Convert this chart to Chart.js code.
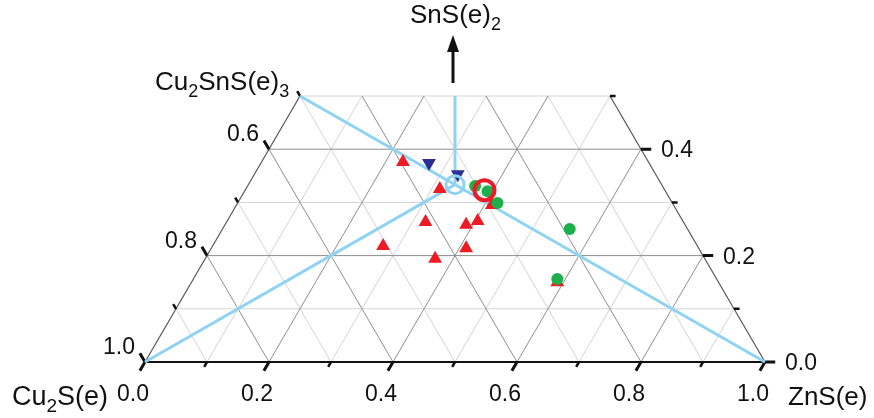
<!DOCTYPE html>
<html><head><meta charset="utf-8">
<script src="https://cdn.jsdelivr.net/npm/chart.js@4/dist/chart.umd.min.js"></script>
<style>html,body{margin:0;padding:0;background:#fff}canvas{display:block}</style>
</head><body>
<canvas id="c" width="874" height="418"></canvas>
<script>
// ---- axis/tick data ----
const bottomTickValues = [0, 0.2, 0.4, 0.6, 0.8, 1.0];      // ZnS(e) fraction
const bottomTickLabels = ['0.0', '0.2', '0.4', '0.6', '0.8', '1.0'];
const leftTickValues = [0.6, 0.8, 1.0];                      // Cu2S(e) fraction
const leftTickLabels = ['0.6', '0.8', '1.0'];
const rightTickValues = [0.0, 0.2, 0.4];                     // SnS(e)2 fraction
const rightTickLabels = ['0.0', '0.2', '0.4'];
const snsMax = 0.5;

// ---- series (ZnS fraction, SnS2 fraction; Cu2S = 1 - ZnS - SnS2) ----
const redTriZnS = [0.228, 0.313, 0.412, 0.321, 0.389, 0.404, 0.275, 0.411, 0.371, 0.590];
const redTriSnS = [0.376, 0.325, 0.295, 0.263, 0.258, 0.265, 0.218, 0.214, 0.194, 0.150];
const blueTriZnS = [0.271, 0.328];
const blueTriSnS = [0.374, 0.353];
const greenZnS = [0.367, 0.392, 0.419, 0.560, 0.587];
const greenSnS = [0.331, 0.321, 0.299, 0.250, 0.156];
const redRingZnS = [0.386];
const redRingSnS = [0.323];
const stoichZnS = [1/3];
const stoichSnS = [1/3];
// tie lines: [ZnS, SnS] start and end
const tieStartZnS = [0, 0, 1/3];
const tieStartSnS = [0.5, 0, 1/3];
const tieEndZnS = [1, 1/3, 0.25];
const tieEndSnS = [0, 1/3, 0.5];

const H = Math.sqrt(3) / 2;
function tern(z, s) { return { x: z + s / 2, y: s * H }; }
function gap() { return { x: null, y: null }; }

function gridPts(parity) {
  const pts = [];
  for (let k = 1; k <= 9; k++) {
    if (k % 2 !== parity) continue;
    const v = k / 10;
    if (v <= snsMax + 1e-9) pts.push(tern(0, v), tern(1 - v, v), gap());
    const sEnd = Math.min(snsMax, 1 - v);
    pts.push(tern(v, 0), tern(v, sEnd), gap());
    pts.push(tern(1 - v, 0), tern(1 - v - sEnd, sEnd), gap());
  }
  return pts;
}
function tickPts(major) {
  const pts = [];
  const L = major ? 0.0165 : 0.009;
  for (let k = 0; k <= 10; k++) {
    if ((k % 2 === 0) !== major) continue;
    const p = tern(k / 10, 0);
    pts.push(p, { x: p.x - 0.5 * L, y: p.y - H * L }, gap());
  }
  for (let k = 0; k <= 5; k++) {
    if ((k % 2 === 0) !== major) continue;
    const s = k / 10;
    const p = tern(0, s);
    pts.push(p, { x: p.x - 0.5 * L, y: p.y + H * L }, gap());
    const q = tern(1 - s, s);
    pts.push(q, { x: q.x + L, y: q.y }, gap());
  }
  return pts;
}
function series(zs, ss) { return zs.map((z, i) => tern(z, ss[i])); }
function tiePts() {
  const pts = [];
  tieStartZnS.forEach((z, i) => pts.push(tern(z, tieStartSnS[i]), tern(tieEndZnS[i], tieEndSnS[i]), gap()));
  return pts;
}

const lineDs = (data, color, width, order) => ({
  type: 'scatter', data, showLine: true, borderColor: color, borderWidth: width,
  pointRadius: 0, fill: false, spanGaps: false, clip: false, order, borderCapStyle: 'butt'
});

const FONT = '"Liberation Sans", Arial, Helvetica, sans-serif';
function drawRich(ctx, parts, x, y, size, subSize) {
  let cx = x;
  for (const [t, sub] of parts) {
    ctx.font = (sub ? subSize : size) + 'px ' + FONT;
    ctx.fillText(t, cx, sub ? y + 7 : y);
    cx += ctx.measureText(t).width;
  }
}

const labelPlugin = {
  id: 'ternLabels',
  afterDatasetsDraw(chart) {
    const { ctx } = chart;
    const xs = chart.scales.x, ys = chart.scales.y;
    const P = (z, s) => { const t = tern(z, s); return [xs.getPixelForValue(t.x), ys.getPixelForValue(t.y)]; };
    ctx.save();
    ctx.fillStyle = '#111';
    ctx.textBaseline = 'alphabetic';
    ctx.font = '23px ' + FONT;
    ctx.textAlign = 'center';
    bottomTickValues.forEach((v, i) => { const [px, py] = P(v, 0); ctx.fillText(bottomTickLabels[i], px - 12, py + 39); });
    ctx.textAlign = 'right';
    leftTickValues.forEach((c, i) => { const [px, py] = P(0, 1 - c); ctx.fillText(leftTickLabels[i], px - 10, py - 8); });
    ctx.textAlign = 'left';
    rightTickValues.forEach((s, i) => { const [px, py] = P(1 - s, s); ctx.fillText(rightTickLabels[i], px + 20, py + 8); });

    const [c0x, c0y] = P(0, 0);
    drawRich(ctx, [['Cu', 0], ['2', 1], ['S(e)', 0]], c0x - 133, c0y + 43, 27, 19);
    const [z0x, z0y] = P(1, 0);
    drawRich(ctx, [['ZnS(e)', 0]], z0x + 23, z0y + 43, 26, 18);
    const [t0x, t0y] = P(0, snsMax);
    drawRich(ctx, [['Cu', 0], ['2', 1], ['SnS(e)', 0], ['3', 1]], t0x - 145, t0y - 6, 26, 18);
    const [ax, ay] = P(0.25, snsMax);
    drawRich(ctx, [['SnS(e)', 0], ['2', 1]], ax - 45, ay - 73, 26, 18);

    // arrow
    const axp = ax - 2;
    ctx.strokeStyle = '#111'; ctx.lineWidth = 3;
    ctx.beginPath(); ctx.moveTo(axp, ay - 13); ctx.lineTo(axp, ay - 46); ctx.stroke();
    ctx.beginPath(); ctx.moveTo(axp, ay - 61); ctx.lineTo(axp - 6, ay - 44); ctx.lineTo(axp + 6, ay - 44); ctx.closePath(); ctx.fill();
    ctx.restore();
  }
};

new Chart(document.getElementById('c'), {
  type: 'scatter',
  data: {
    datasets: [
      lineDs(gridPts(1), '#d4d4d4', 1, 20),
      lineDs(gridPts(0), '#8e8e8e', 1, 19),
      lineDs([tern(0, 0), tern(0, snsMax)], '#555', 1.2, 18),
      lineDs([tern(1, 0), tern(1 - snsMax, snsMax)], '#555', 1.2, 18),
      lineDs([tern(0, 0), tern(1, 0)], '#111', 2, 17),
      lineDs(tickPts(true), '#111', 3, 16),
      lineDs(tickPts(false), '#111', 2.5, 16),
      lineDs(tiePts(), '#8fd3f2', 3, 15),
      { data: series(redTriZnS, redTriSnS), pointStyle: 'triangle', pointRadius: 8, backgroundColor: '#ED1C24', borderWidth: 0, clip: false, order: 10 },
      { data: series(blueTriZnS, blueTriSnS), pointStyle: 'triangle', rotation: 180, pointRadius: 8, backgroundColor: '#2B3192', borderWidth: 0, clip: false, order: 9 },
      { data: series(greenZnS, greenSnS), pointStyle: 'circle', pointRadius: 6, backgroundColor: '#1DAF4B', borderWidth: 0, clip: false, order: 8 },
      { data: series(redRingZnS, redRingSnS), pointStyle: 'circle', pointRadius: 10, backgroundColor: 'rgba(0,0,0,0)', borderColor: '#ED1C24', borderWidth: 4, clip: false, order: 7 },
      { data: series(stoichZnS, stoichSnS), pointStyle: 'circle', pointRadius: 9, backgroundColor: 'rgba(0,0,0,0)', borderColor: '#8fd3f2', borderWidth: 3, clip: false, order: 6 }
    ]
  },
  options: {
    responsive: false,
    devicePixelRatio: 1,
    animation: false,
    layout: { padding: { left: 145, right: 109, top: 96, bottom: 56 } },
    scales: {
      x: { type: 'linear', min: 0, max: 1, display: false },
      y: { type: 'linear', min: 0, max: snsMax * H, display: false }
    },
    plugins: { legend: { display: false }, tooltip: { enabled: false } },
    events: []
  },
  plugins: [labelPlugin]
});
</script>
</body></html>
